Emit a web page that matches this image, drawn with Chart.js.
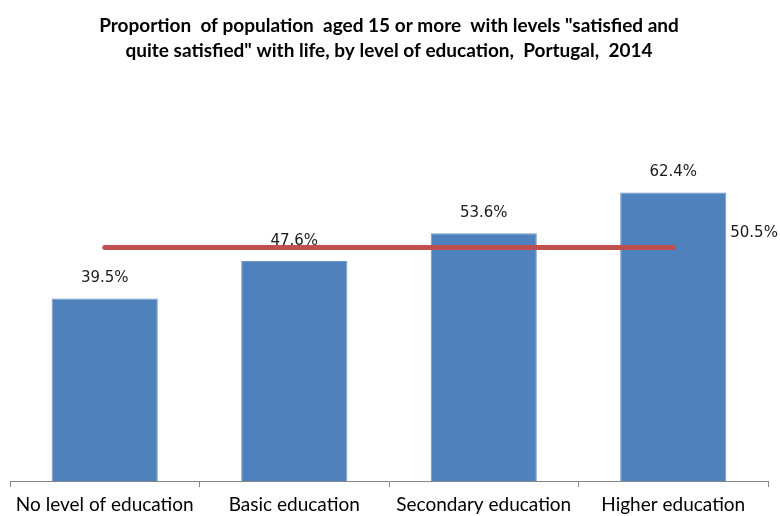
<!DOCTYPE html>
<html>
<head>
<meta charset="utf-8">
<script src="https://cdn.jsdelivr.net/npm/chart.js@4"></script>
<style>
  html, body { margin: 0; padding: 0; background: #fff; }
  #wrap { width: 780px; height: 516px; }
</style>
</head>
<body>
<div id="wrap"><canvas id="edu-chart"></canvas></div>
<script>
var categories = ["No level of education", "Basic education", "Secondary education", "Higher education"];
var satisfied = [39.5, 47.6, 53.6, 62.4];
var average = [50.5, 50.5, 50.5, 50.5];
var titleLines = [
    'Proportion  of population  aged 15 or more  with levels "satisfied and',
    'quite satisfied" with life, by level of education,  Portugal,  2014'
];

// value labels: above each bar, and one beside the end of the average line
var valueLabels = {
    id: 'valueLabels',
    afterDatasetsDraw: function(chart) {
        var ctx = chart.ctx;
        ctx.save();
        ctx.font = '15px "DejaVu Sans"';
        ctx.fillStyle = '#1a1a1a';
        ctx.textBaseline = 'middle';

        ctx.textAlign = 'center';
        chart.getDatasetMeta(0).data.forEach(function(bar, i) {
            ctx.fillText(satisfied[i].toFixed(1) + '%', bar.x, bar.y - 20);
        });

        var pts = chart.getDatasetMeta(1).data;
        var last = pts[pts.length - 1];
        ctx.textAlign = 'left';
        ctx.fillText(average[average.length - 1].toFixed(1) + '%', last.x + 57, last.y - 14);
        ctx.restore();
    }
};

document.addEventListener('DOMContentLoaded', function() {
    var ctx = document.getElementById('edu-chart').getContext('2d');
    new Chart(ctx, {
        data: {
            labels: categories,
            datasets: [{
                type: 'bar',
                data: satisfied,
                backgroundColor: '#4F81BD',
                borderColor: '#6E97CA',
                borderWidth: 1,
                categoryPercentage: 1,
                barPercentage: 0.56,
                order: 2
            },
            {
                type: 'line',
                data: average,
                borderColor: '#C0504D',
                borderWidth: 5,
                borderCapStyle: 'round',
                pointRadius: 0,
                fill: false,
                order: 1
            }]
        },
        options: {
            responsive: true,
            maintainAspectRatio: false,
            animation: false,
            layout: { padding: { left: 10, right: 12, top: 0, bottom: 0 } },
            plugins: {
                legend: { display: false },
                tooltip: { enabled: false },
                title: {
                    display: true,
                    text: titleLines,
                    color: '#000',
                    font: { family: 'Lato', size: 19, weight: 'bold', lineHeight: 1.32 },
                    padding: { top: 13, bottom: 48 }
                }
            },
            scales: {
                x: {
                    afterFit: function(scale) { scale.height = 35; },
                    grid: {
                        offset: true,
                        drawOnChartArea: false,
                        drawTicks: true,
                        tickLength: 6,
                        color: '#868686'
                    },
                    border: { display: true, color: '#868686', width: 1 },
                    ticks: {
                        color: '#000',
                        padding: 6,
                        font: { family: 'Lato', size: 19 }
                    }
                },
                y: {
                    display: false,
                    min: 0,
                    max: 80
                }
            }
        },
        plugins: [valueLabels]
    });
});
</script>
</body>
</html>
